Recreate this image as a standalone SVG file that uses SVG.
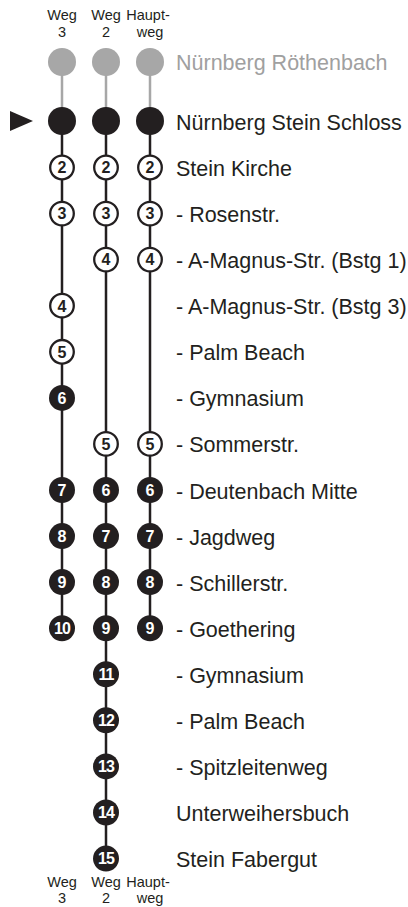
<svg xmlns="http://www.w3.org/2000/svg" width="408" height="907" viewBox="0 0 408 907">
<style>
.bg{fill:#fff}
.ring{fill:#fff;stroke:#231f20;stroke-width:2.3}
.dot{fill:#231f20}
.big{fill:#231f20}
.gray{fill:#a7a7a7}
.ln{stroke:#231f20;stroke-width:2.5;fill:none}
.lg{stroke:#a7a7a7;stroke-width:2.5;fill:none}
.n{font-family:"Liberation Sans",Arial,sans-serif;font-weight:bold;font-size:16px;text-anchor:middle}
.nb{fill:#231f20}
.nw{fill:#fff}
.lbl{font-family:"Liberation Sans",Arial,sans-serif;font-size:21.5px;fill:#231f20}
.lblg{fill:#a0a0a0}
.hdr{font-family:"Liberation Sans",Arial,sans-serif;font-size:14.5px;fill:#231f20;text-anchor:middle}
</style>
<rect class="bg" x="0" y="0" width="408" height="907"/>
<g id="header-top">
<text class="hdr" x="62" y="20">Weg</text><text class="hdr" x="62" y="36.5">3</text>
<text class="hdr" x="106" y="20">Weg</text><text class="hdr" x="106" y="36.5">2</text>
<text class="hdr" x="148" y="20">Haupt-</text><text class="hdr" x="150" y="36.5">weg</text>
</g>
<g id="header-bottom">
<text class="hdr" x="62" y="886.5">Weg</text><text class="hdr" x="62" y="902.5">3</text>
<text class="hdr" x="106" y="886.5">Weg</text><text class="hdr" x="106" y="902.5">2</text>
<text class="hdr" x="148" y="886.5">Haupt-</text><text class="hdr" x="150" y="902.5">weg</text>
</g>
<g id="connectors">
<line class="lg" x1="62" y1="62" x2="62" y2="121"/>
<line class="lg" x1="106" y1="62" x2="106" y2="121"/>
<line class="lg" x1="150" y1="62" x2="150" y2="121"/>
<line class="ln" x1="62" y1="121" x2="62" y2="628.2"/>
<line class="ln" x1="106" y1="121" x2="106" y2="858.6"/>
<line class="ln" x1="150" y1="121" x2="150" y2="628.2"/>
</g>
<g id="marker-current"><polygon points="10,111 10,131 33,121" fill="#231f20"/></g>
<g id="start-gray">
<circle class="gray" cx="62" cy="62" r="14"/><circle class="gray" cx="106" cy="62" r="14"/><circle class="gray" cx="150" cy="62" r="14"/>
</g>
<g id="start-black">
<circle class="big" cx="62" cy="121" r="14"/><circle class="big" cx="106" cy="121" r="14"/><circle class="big" cx="150" cy="121" r="14"/>
</g>
<g id="w3">
<g id="w3-2"><circle class="ring" cx="62" cy="167.5" r="11.8"/><text class="n nb" x="62" y="173.3">2</text></g>
<g id="w3-3"><circle class="ring" cx="62" cy="213.6" r="11.8"/><text class="n nb" x="62" y="219.4">3</text></g>
<g id="w3-4"><circle class="ring" cx="62" cy="305.7" r="11.8"/><text class="n nb" x="62" y="311.5">4</text></g>
<g id="w3-5"><circle class="ring" cx="62" cy="351.8" r="11.8"/><text class="n nb" x="62" y="357.6">5</text></g>
<g id="w3-6"><circle class="dot" cx="62" cy="397.9" r="13"/><text class="n nw" x="62" y="403.7">6</text></g>
<g id="w3-7"><circle class="dot" cx="62" cy="490" r="13"/><text class="n nw" x="62" y="495.8">7</text></g>
<g id="w3-8"><circle class="dot" cx="62" cy="536.1" r="13"/><text class="n nw" x="62" y="541.9">8</text></g>
<g id="w3-9"><circle class="dot" cx="62" cy="582.1" r="13"/><text class="n nw" x="62" y="587.9">9</text></g>
<g id="w3-10"><circle class="dot" cx="62" cy="628.2" r="13"/><text class="n nw" x="62" y="634" letter-spacing="-1">10</text></g>
</g>
<g id="w2">
<g id="w2-2"><circle class="ring" cx="106" cy="167.5" r="11.8"/><text class="n nb" x="106" y="173.3">2</text></g>
<g id="w2-3"><circle class="ring" cx="106" cy="213.6" r="11.8"/><text class="n nb" x="106" y="219.4">3</text></g>
<g id="w2-4"><circle class="ring" cx="106" cy="259.6" r="11.8"/><text class="n nb" x="106" y="265.4">4</text></g>
<g id="w2-5"><circle class="ring" cx="106" cy="443.9" r="11.8"/><text class="n nb" x="106" y="449.7">5</text></g>
<g id="w2-6"><circle class="dot" cx="106" cy="490" r="13"/><text class="n nw" x="106" y="495.8">6</text></g>
<g id="w2-7"><circle class="dot" cx="106" cy="536.1" r="13"/><text class="n nw" x="106" y="541.9">7</text></g>
<g id="w2-8"><circle class="dot" cx="106" cy="582.1" r="13"/><text class="n nw" x="106" y="587.9">8</text></g>
<g id="w2-9"><circle class="dot" cx="106" cy="628.2" r="13"/><text class="n nw" x="106" y="634">9</text></g>
<g id="w2-11"><circle class="dot" cx="106" cy="674.3" r="13"/><text class="n nw" x="106" y="680.1" letter-spacing="-1">11</text></g>
<g id="w2-12"><circle class="dot" cx="106" cy="720.3" r="13"/><text class="n nw" x="106" y="726.1" letter-spacing="-1">12</text></g>
<g id="w2-13"><circle class="dot" cx="106" cy="766.4" r="13"/><text class="n nw" x="106" y="772.2" letter-spacing="-1">13</text></g>
<g id="w2-14"><circle class="dot" cx="106" cy="812.5" r="13"/><text class="n nw" x="106" y="818.3" letter-spacing="-1">14</text></g>
<g id="w2-15"><circle class="dot" cx="106" cy="858.6" r="13"/><text class="n nw" x="106" y="864.4" letter-spacing="-1">15</text></g>
</g>
<g id="hw">
<g id="hw-2"><circle class="ring" cx="150" cy="167.5" r="11.8"/><text class="n nb" x="150" y="173.3">2</text></g>
<g id="hw-3"><circle class="ring" cx="150" cy="213.6" r="11.8"/><text class="n nb" x="150" y="219.4">3</text></g>
<g id="hw-4"><circle class="ring" cx="150" cy="259.6" r="11.8"/><text class="n nb" x="150" y="265.4">4</text></g>
<g id="hw-5"><circle class="ring" cx="150" cy="443.9" r="11.8"/><text class="n nb" x="150" y="449.7">5</text></g>
<g id="hw-6"><circle class="dot" cx="150" cy="490" r="13"/><text class="n nw" x="150" y="495.8">6</text></g>
<g id="hw-7"><circle class="dot" cx="150" cy="536.1" r="13"/><text class="n nw" x="150" y="541.9">7</text></g>
<g id="hw-8"><circle class="dot" cx="150" cy="582.1" r="13"/><text class="n nw" x="150" y="587.9">8</text></g>
<g id="hw-9"><circle class="dot" cx="150" cy="628.2" r="13"/><text class="n nw" x="150" y="634">9</text></g>
</g>
<g id="labels">
<text class="lbl lblg" x="176" y="70">Nürnberg Röthenbach</text>
<text class="lbl" x="176" y="129.5">Nürnberg Stein Schloss</text>
<text class="lbl" x="176" y="176">Stein Kirche</text>
<text class="lbl" x="176" y="222.1">- Rosenstr.</text>
<text class="lbl" x="176" y="268.1">- A-Magnus-Str. (Bstg 1)</text>
<text class="lbl" x="176" y="314.2">- A-Magnus-Str. (Bstg 3)</text>
<text class="lbl" x="176" y="360.3">- Palm Beach</text>
<text class="lbl" x="176" y="406.4">- Gymnasium</text>
<text class="lbl" x="176" y="452.4">- Sommerstr.</text>
<text class="lbl" x="176" y="498.5">- Deutenbach Mitte</text>
<text class="lbl" x="176" y="544.6">- Jagdweg</text>
<text class="lbl" x="176" y="590.6">- Schillerstr.</text>
<text class="lbl" x="176" y="636.7">- Goethering</text>
<text class="lbl" x="176" y="682.8">- Gymnasium</text>
<text class="lbl" x="176" y="728.8">- Palm Beach</text>
<text class="lbl" x="176" y="774.9">- Spitzleitenweg</text>
<text class="lbl" x="176" y="821">Unterweihersbuch</text>
<text class="lbl" x="176" y="867.1">Stein Fabergut</text>
</g>
</svg>
